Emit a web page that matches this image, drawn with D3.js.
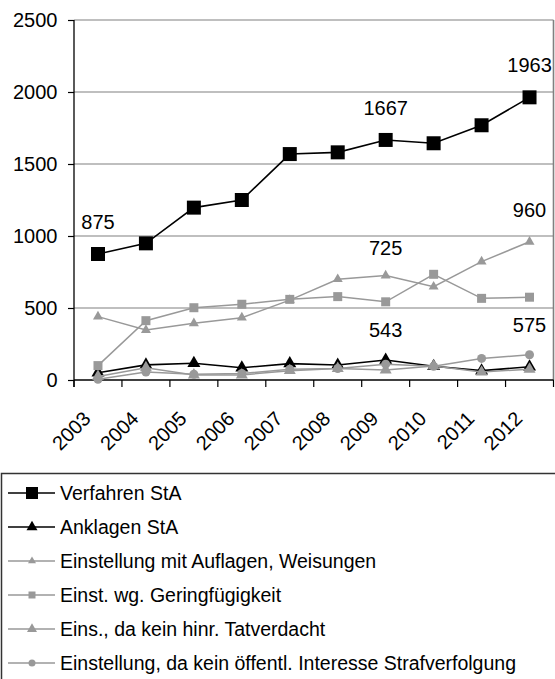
<!DOCTYPE html>
<html>
<head>
<meta charset="utf-8">
<script src="https://cdn.jsdelivr.net/npm/d3@7/dist/d3.min.js"></script>
<style>
  html, body { margin: 0; padding: 0; background: #fff; }
  svg { display: block; font-family: "Liberation Sans", Arial, Helvetica, sans-serif; }
</style>
</head>
<body>
<svg id="chart" width="555" height="679"></svg>
<script>
// Years on the x axis
const years = ['2003', '2004', '2005', '2006', '2007', '2008', '2009', '2010', '2011', '2012'];

// Series values per year
const verfahrenStA = [875, 949, 1197, 1250, 1569, 1581, 1667, 1644, 1769, 1963];
const anklagenStA = [50, 105, 116, 85, 114, 104, 139, 95, 65, 92];
const einstAuflagen = [440, 347, 394, 433, 555, 700, 725, 648, 822, 960];
const einstGeringfuegigkeit = [100, 412, 502, 526, 560, 579, 543, 734, 567, 575];
const einstTatverdacht = [25, 85, 35, 35, 65, 80, 70, 97, 55, 75];
const einstOeffInteresse = [5, 55, 40, 45, 75, 80, 110, 95, 150, 175];

// Y axis ticks
const yTicks = [0, 500, 1000, 1500, 2000, 2500];

// Series names (legend order)
const seriesNames = [
  'Verfahren StA',
  'Anklagen StA',
  'Einstellung mit Auflagen, Weisungen',
  'Einst. wg. Geringfügigkeit',
  'Eins., da kein hinr. Tatverdacht',
  'Einstellung, da kein öffentl. Interesse Strafverfolgung'
];

// Points that carry a value label: [series index, year]
const labelledPoints = [
  [0, '2003'], [0, '2009'], [0, '2012'],
  [2, '2009'], [2, '2012'],
  [3, '2009'], [3, '2012']
];

// ---- presentation ----
const seriesValues = [verfahrenStA, anklagenStA, einstAuflagen, einstGeringfuegigkeit, einstTatverdacht, einstOeffInteresse];
const GRAY = '#999999';
const styles = [
  { color: '#000', shape: 'square',   size: 14, legendSize: 12, width: 1.6 },
  { color: '#000', shape: 'triangle', size: 13, legendSize: 11, width: 1.6 },
  { color: GRAY,   shape: 'triangle', size: 10, legendSize: 8,  width: 1.5 },
  { color: GRAY,   shape: 'square',   size: 9,  legendSize: 7,  width: 1.5 },
  { color: GRAY,   shape: 'triangle', size: 12, legendSize: 10, width: 1.5 },
  { color: GRAY,   shape: 'circle',   size: 9,  legendSize: 7,  width: 1.5 }
];
// vertical offset of value labels from their point (baseline)
const labelOffset = { 0: -25, 2: -21, 3: 35 };
const labelOffsetOverride = { '2-2012': -25 };

function symbolFor(shape, w) {
  if (shape === 'square') return d3.symbol(d3.symbolSquare, w * w);
  if (shape === 'circle') return d3.symbol(d3.symbolCircle, Math.PI * w * w / 4);
  return d3.symbol(d3.symbolTriangle, w * w * Math.sqrt(3) / 4);
}

const svg = d3.select('#chart');
const plotLeft = 74, plotRight = 553.5, plotTop = 20, plotBottom = 380;

const x = d3.scaleBand().domain(years).range([plotLeft, plotRight]);
const cx = d => x(d) + x.bandwidth() / 2;
const y = d3.scaleLinear().domain([0, 2500]).range([plotBottom, plotTop]);

// gridlines
svg.append('g').selectAll('line').data(yTicks.filter(t => t > 0)).join('line')
  .attr('x1', plotLeft).attr('x2', plotRight)
  .attr('y1', d => y(d)).attr('y2', d => y(d))
  .attr('stroke', '#808080').attr('stroke-width', 1.2);

// right border of the plot area
svg.append('line')
  .attr('x1', plotRight).attr('x2', plotRight).attr('y1', plotTop).attr('y2', plotBottom)
  .attr('stroke', '#808080').attr('stroke-width', 1.6);

// y axis
const yAxis = svg.append('g').attr('transform', `translate(${plotLeft},0)`)
  .call(d3.axisLeft(y).tickValues(yTicks).tickFormat(d3.format('d'))
    .tickSize(6).tickPadding(10.5).tickSizeOuter(0));
yAxis.select('.domain').remove();
yAxis.selectAll('.tick line').attr('stroke', '#000').attr('stroke-width', 1.2);
yAxis.selectAll('.tick text').attr('font-size', 20).attr('fill', '#000')
  .attr('font-family', '"Liberation Sans", Arial, sans-serif');
svg.append('line').attr('x1', plotLeft).attr('x2', plotLeft).attr('y1', plotTop).attr('y2', plotBottom + 7)
  .attr('stroke', '#000').attr('stroke-width', 1.3);

// x axis
svg.append('line').attr('x1', plotLeft).attr('x2', plotRight).attr('y1', plotBottom).attr('y2', plotBottom)
  .attr('stroke', '#000').attr('stroke-width', 1.3);
const boundaries = years.map(d => x(d)).concat([plotRight]);
svg.append('g').selectAll('line').data(boundaries).join('line')
  .attr('x1', d => d).attr('x2', d => d).attr('y1', plotBottom).attr('y2', plotBottom + 7)
  .attr('stroke', '#000').attr('stroke-width', 1.2);
svg.append('g').selectAll('text').data(years).join('text')
  .attr('transform', d => `translate(${cx(d) - 6},${plotBottom + 40}) rotate(-45)`)
  .attr('text-anchor', 'end')
  .attr('font-size', 20)
  .attr('fill', '#000')
  .text(d => d);

// series lines and markers
const line = d3.line().x((v, i) => cx(years[i])).y(v => y(v));
seriesValues.forEach((vals, s) => {
  const st = styles[s];
  const g = svg.append('g');
  g.append('path').datum(vals)
    .attr('d', line).attr('fill', 'none')
    .attr('stroke', st.color).attr('stroke-width', st.width);
  g.selectAll('path.m').data(vals).join('path').attr('class', 'm')
    .attr('transform', (v, i) => `translate(${cx(years[i])},${y(v)})`)
    .attr('d', symbolFor(st.shape, st.size))
    .attr('fill', st.color);
});

// value labels
svg.append('g').selectAll('text').data(labelledPoints).join('text')
  .attr('x', d => cx(d[1]))
  .attr('y', d => {
    const v = seriesValues[d[0]][years.indexOf(d[1])];
    const key = d[0] + '-' + d[1];
    const off = key in labelOffsetOverride ? labelOffsetOverride[key] : labelOffset[d[0]];
    return y(v) + off;
  })
  .attr('text-anchor', 'middle')
  .attr('font-size', 20)
  .attr('fill', '#000')
  .text(d => seriesValues[d[0]][years.indexOf(d[1])]);

// legend
const legend = svg.append('g');
legend.append('rect')
  .attr('x', 1.5).attr('y', 473.5).attr('width', 600).attr('height', 300)
  .attr('fill', 'none').attr('stroke', '#333').attr('stroke-width', 1.5);
seriesNames.forEach((name, i) => {
  const st = styles[i];
  const ly = 493 + i * 34;
  legend.append('line').attr('x1', 8).attr('x2', 55).attr('y1', ly).attr('y2', ly)
    .attr('stroke', st.color).attr('stroke-width', st.width);
  legend.append('path')
    .attr('transform', `translate(32,${ly})`)
    .attr('d', symbolFor(st.shape, st.legendSize))
    .attr('fill', st.color);
  legend.append('text')
    .attr('x', 60).attr('y', ly).attr('dy', '0.36em')
    .attr('font-size', 19.5).attr('fill', '#000')
    .text(name);
});
</script>
</body>
</html>
